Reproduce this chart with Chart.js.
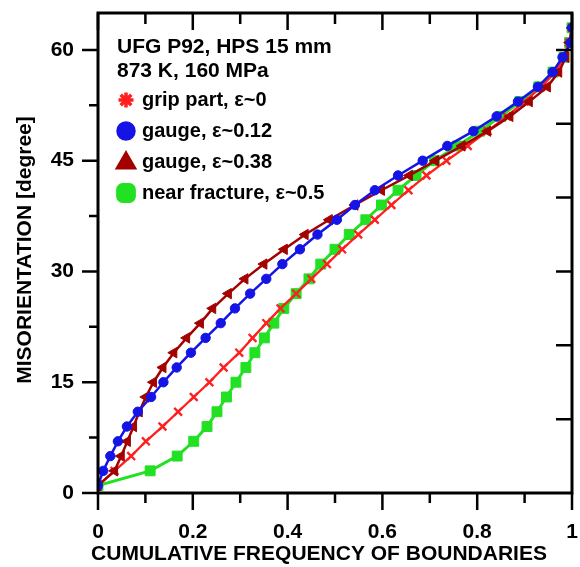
<!DOCTYPE html>
<html><head><meta charset="utf-8">
<script src="https://cdn.jsdelivr.net/npm/chart.js@4/dist/chart.umd.min.js"></script>
<style>html,body{margin:0;padding:0;background:#fff;} #wrap{width:580px;height:567px;position:relative;}</style>
</head><body><div id="wrap"><canvas id="c" width="580" height="567"></canvas></div>
<script>
// ---- data ----
const misorientation = [1,3,5,7,9,11,13,15,17,19,21,23,25,27,29,31,33,35,37,39,41,43,45,47,49,51,53,55,57,59,61,63];
const gripPart   = [0,0.035,0.07,0.101,0.136,0.169,0.202,0.235,0.265,0.298,0.326,0.355,0.385,0.418,0.45,0.483,0.515,0.549,0.584,0.619,0.655,0.693,0.735,0.78,0.822,0.862,0.9,0.935,0.965,0.983,0.994,1.0];
const gauge012   = [0,0.011,0.026,0.042,0.061,0.084,0.112,0.138,0.166,0.196,0.227,0.259,0.289,0.321,0.355,0.389,0.426,0.463,0.504,0.542,0.584,0.633,0.685,0.737,0.792,0.841,0.886,0.928,0.959,0.98,0.997,1.0];
const gauge038   = [0,0.035,0.049,0.062,0.075,0.087,0.101,0.117,0.137,0.16,0.187,0.216,0.242,0.275,0.31,0.35,0.393,0.437,0.488,0.542,0.598,0.657,0.712,0.768,0.822,0.869,0.91,0.948,0.972,0.987,0.995,1.0];
const nearFract  = [0,0.11,0.167,0.202,0.23,0.251,0.271,0.291,0.312,0.331,0.351,0.371,0.392,0.418,0.445,0.47,0.5,0.53,0.565,0.598,0.633,0.671,0.71,0.758,0.805,0.85,0.89,0.93,0.96,0.983,0.995,1.0];
const seriesLabels = ["grip part, \u03b5~0", "gauge, \u03b5~0.12", "gauge, \u03b5~0.38", "near fracture, \u03b5~0.5"];
const headerLines = ["UFG P92, HPS 15 mm", "873 K, 160 MPa"];
const xTickValues = [0,0.2,0.4,0.6,0.8,1];
const xMinorTicks = [0.1,0.3,0.5,0.7,0.9];
const yTickValues = [0,15,30,45,60];
const yMinorTicks = [7.5,22.5,37.5,52.5];
const rightTicks = [10,20,30,40,50,60];
const xTitle = "CUMULATIVE FREQUENCY OF BOUNDARIES";
const yTitle = "MISORIENTATION [degree]";

const FONT = '"Liberation Sans", Arial, sans-serif';
function pts(xs){ return xs.map((x,i)=>({x:x, y:misorientation[i]})); }

const RED='#ff1f1f', BLUE='#1414e6', DRED='#a30000', GREEN='#22e022';

const datasets = [
  {label:seriesLabels[0], data:pts(gripPart), borderColor:RED, backgroundColor:RED, borderWidth:2.3,
   pointStyle:'crossRot', pointRadius:5.5, pointBorderWidth:2.3, order:2, legendStyle:'star'},
  {label:seriesLabels[1], data:pts(gauge012), borderColor:BLUE, backgroundColor:BLUE, borderWidth:2.5,
   pointStyle:'circle', pointRadius:4.7, pointBorderWidth:1, order:0, legendStyle:'circle'},
  {label:seriesLabels[2], data:pts(gauge038), borderColor:DRED, backgroundColor:DRED, borderWidth:2.5,
   pointStyle:'triangle', pointRadius:6, pointRotation:-90, pointBorderWidth:1, order:1, legendStyle:'triangle'},
  {label:seriesLabels[3], data:pts(nearFract), borderColor:GREEN, backgroundColor:GREEN, borderWidth:3,
   pointStyle:'rect', pointRadius:7, pointBorderWidth:1, order:3, legendStyle:'rect'}
];
datasets.forEach(d=>{ d.showLine=true; d.tension=0; d.fill=false; });

const framePlugin = {
  id:'frame',
  afterDatasetsDraw(chart){
    const {ctx, chartArea:a, scales} = chart;
    const xs=scales.x, ys=scales.y;
    ctx.save();
    ctx.strokeStyle='#000';
    ctx.lineWidth=3;
    ctx.strokeRect(a.left,a.top,a.right-a.left,a.bottom-a.top);
    ctx.lineWidth=2.5;
    ctx.beginPath();
    xTickValues.forEach(v=>{const p=xs.getPixelForValue(v);
      ctx.moveTo(p,a.bottom); ctx.lineTo(p,a.bottom+17);
      ctx.moveTo(p,a.top); ctx.lineTo(p,a.top+17);});
    xMinorTicks.forEach(v=>{const p=xs.getPixelForValue(v);
      ctx.moveTo(p,a.bottom); ctx.lineTo(p,a.bottom+10);
      ctx.moveTo(p,a.top); ctx.lineTo(p,a.top+11);});
    yTickValues.forEach(v=>{const p=ys.getPixelForValue(v);
      ctx.moveTo(a.left,p); ctx.lineTo(a.left-16,p);});
    yMinorTicks.forEach(v=>{const p=ys.getPixelForValue(v);
      ctx.moveTo(a.left,p); ctx.lineTo(a.left-9,p);});
    rightTicks.forEach(v=>{const p=ys.getPixelForValue(v);
      ctx.moveTo(a.right,p); ctx.lineTo(a.right-16,p);});
    ctx.stroke();
    ctx.restore();
  },
  afterDraw(chart){
    const ctx=chart.ctx;
    ctx.save();
    ctx.fillStyle='#000';
    ctx.textBaseline='middle';
    // axis titles
    ctx.font='bold 21px '+FONT;
    ctx.textAlign='center';
    ctx.fillText(xTitle, 319, 554);
    ctx.save();
    ctx.translate(25,250); ctx.rotate(-Math.PI/2);
    ctx.fillText(yTitle, 0, 0);
    ctx.restore();
    // header
    ctx.textAlign='left';
    ctx.fillText(headerLines[0], 117, 47);
    ctx.fillText(headerLines[1], 117, 71);
    // legend entries
    ctx.font='bold 20px '+FONT;
    const rowY=[100,131,162,193];
    chart.data.datasets.forEach((d,i)=>{
      const y=rowY[i], x=126;
      ctx.fillStyle=d.backgroundColor; ctx.strokeStyle=d.borderColor;
      const st=d.legendStyle;
      if(st==='star'){
        ctx.lineWidth=3.5;
        Chart.helpers.drawPoint(ctx,{pointStyle:'star',radius:7.5,rotation:0,borderWidth:3.5},x,y);
      } else if(st==='circle'){
        Chart.helpers.drawPoint(ctx,{pointStyle:'circle',radius:8,rotation:0,borderWidth:1},x,y);
      } else if(st==='triangle'){
        Chart.helpers.drawPoint(ctx,{pointStyle:'triangle',radius:9.5,rotation:0,borderWidth:1},x,y+1);
      } else {
        Chart.helpers.drawPoint(ctx,{pointStyle:'rectRounded',radius:9.5,rotation:0,borderWidth:1},x,y);
      }
      ctx.fillStyle='#000';
      ctx.fillText(d.label, 142, y);
    });
    ctx.restore();
  }
};

new Chart(document.getElementById('c'), {
  type:'scatter',
  data:{datasets},
  options:{
    responsive:false, animation:false, devicePixelRatio:1,
    layout:{padding:{left:0,right:2,top:13,bottom:0}},
    plugins:{legend:{display:false}, tooltip:{enabled:false}},
    scales:{
      x:{type:'linear', min:0, max:1,
        grid:{display:false, drawTicks:false}, border:{display:false},
        afterBuildTicks:s=>{s.ticks=xTickValues.map(v=>({value:v}));},
        afterFit:s=>{s.height=74; s.paddingLeft=0; s.paddingRight=0;},
        ticks:{padding:27, color:'#000', font:{family:FONT, size:21, weight:'bold'}, maxRotation:0,
          callback:v=>String(v)}},
      y:{type:'linear', min:0, max:65,
        grid:{display:false, drawTicks:false}, border:{display:false},
        afterBuildTicks:s=>{s.ticks=yTickValues.map(v=>({value:v}));},
        afterFit:s=>{s.width=98; s.paddingTop=0; s.paddingBottom=0;},
        ticks:{padding:24, color:'#000', font:{family:FONT, size:21, weight:'bold'},
          callback:v=>String(v)}}
    }
  },
  plugins:[framePlugin]
});
</script></body></html>
